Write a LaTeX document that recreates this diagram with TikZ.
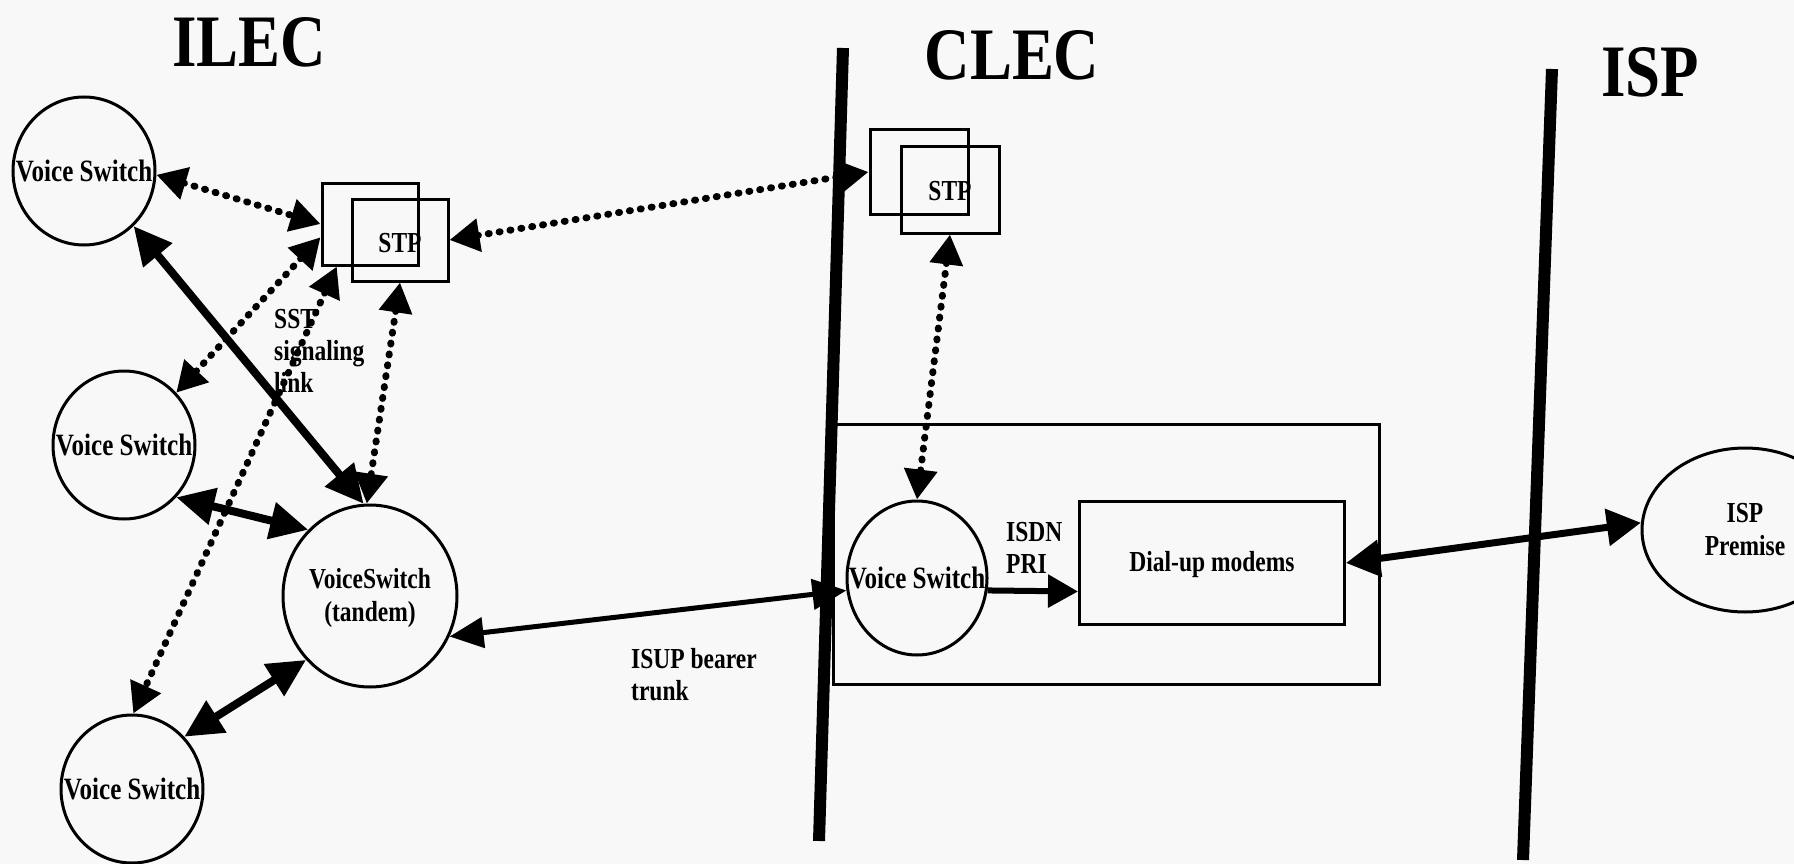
\documentclass[tikz,border=0pt]{standalone}
\usepackage{fontspec}
\setmainfont{Liberation Serif}
\newfontfamily\scanfont[FakeStretch=0.81]{Liberation Serif}
\newfontfamily\headfont[FakeStretch=0.85]{Liberation Serif}
\usetikzlibrary{arrows.meta,shapes.geometric}
\definecolor{paper}{RGB}{248,248,248}
\tikzset{
  sw/.style={ellipse, draw, line width=3pt, inner sep=0pt, minimum width=142pt, minimum height=148pt},
  stpbox/.style={rectangle, draw, line width=3pt, inner sep=0pt, minimum width=96pt, minimum height=82pt},
  plainbox/.style={rectangle, draw, line width=3pt, inner sep=0pt},
  txt/.style={font=\scanfont\bfseries\fontsize{29}{33}\selectfont, inner sep=0pt, align=center},
  vstxt/.style={font=\scanfont\bfseries\fontsize{31}{33}\selectfont, inner sep=0pt, align=center},
  ltxt/.style={font=\scanfont\bfseries\fontsize{29}{32}\selectfont, inner sep=0pt, align=left, anchor=north west},
  titletxt/.style={font=\headfont\bfseries\fontsize{74}{74}\selectfont, inner sep=0pt, anchor=base},
  divider/.style={line width=12pt},
  sig/.style={line width=7pt, dash pattern=on 1pt off 10pt, line cap=round,
    arrows={Triangle[length=30pt,width=32pt]-Triangle[length=30pt,width=32pt]}},
  bear/.style={line width=8pt,
    arrows={Triangle[length=38pt,width=36pt]-Triangle[length=38pt,width=36pt]}},
  trunk/.style={line width=5pt,
    arrows={Triangle[length=34pt,width=30pt]-Triangle[length=34pt,width=30pt]}},
  pri/.style={line width=6pt, arrows={-Triangle[length=30pt,width=32pt]}},
  isplink/.style={line width=7pt,
    arrows={Triangle[length=34pt,width=36pt]-Triangle[length=34pt,width=36pt]}},
}
\begin{document}
\begin{tikzpicture}[x=1pt,y=-1pt]
\fill[paper] (0,0) rectangle (1794,864);
\useasboundingbox (0,0) rectangle (1794,864);
\clip (0,0) rectangle (1794,864);

% titles
\node[titletxt] (tilec) at (249,67) {ILEC};
\node[titletxt] (tclec) at (1012,80) {CLEC};
\node[titletxt] (tisp) at (1650,97) {ISP};

% dividers
\coordinate (cTop) at (843,48);
\coordinate (cBot) at (819,841);
\coordinate (iTop) at (1552,69);
\coordinate (iBot) at (1523,860);
\draw[divider] (cTop) -- (cBot);
\draw[divider] (iTop) -- (iBot);

% CLEC container
\node[plainbox, minimum width=546pt, minimum height=260pt] (clecbox) at (1106,554) {};

% voice switches
\node[sw] (vs1) at (84,171) {};
\node[vstxt] (vs1t) at (vs1) {Voice Switch};
\node[sw] (vs2) at (124,445) {};
\node[vstxt] (vs2t) at (vs2) {Voice Switch};
\node[sw] (vs3) at (132,789) {};
\node[vstxt] (vs3t) at (vs3) {Voice Switch};
\node[sw, minimum width=174pt, minimum height=182pt] (tandem) at (370,596) {};
\node[txt] (tandemt) at (370,598) {VoiceSwitch\\(tandem)};
\node[sw, minimum width=140pt, minimum height=154pt] (vsc) at (917,578) {};
\node[vstxt] (vsct) at (vsc) {Voice Switch};
\node[sw, minimum width=206pt, minimum height=164pt] (isp) at (1745,530) {};
\node[txt] (ispt) at (1745,530) {ISP\\Premise};
\node[plainbox, minimum width=265pt, minimum height=123pt] (dial) at (1212,563) {};
\node[txt] (dialt) at (1212,565) {Dial-up modems};

% STPs
\node[stpbox] (stpAf) at (400,240) {};
\node[txt] (stpAt) at (400,243) {STP};
\node[stpbox] (stpAb) at (370,224) {};
\node[stpbox, minimum width=98pt, minimum height=86pt] (stpBf) at (950,190) {};
\node[txt] (stpBt) at (950,191) {STP};
\node[stpbox, minimum width=98pt, minimum height=85pt] (stpBb) at (919,172) {};

% labels
\node[ltxt] (sst) at (274,309) {SST\\signaling\\link};
\node[ltxt] (isdn) at (1006,522) {ISDN\\PRI};
\node[ltxt] (isup) at (631,648) {ISUP bearer\\trunk};

% signaling links
\draw[sig] (vs1.-3) -- (stpAb.west);
\draw[sig] (stpAb.195) -- (vs2.45);
\draw[sig] (stpAb.232) -- (vs3.89);
\draw[sig] (stpAf.south) -- (tandem.92);
\draw[sig] (stpAf.east) -- (stpBb.west);
\draw[sig] (stpBf.south) -- (vsc.north);

% bearer links
\draw[bear] (vs1.-48) -- (tandem.94);
\draw[bear] (vs2.-45) -- (tandem.133);
\draw[bear] (vs3.45) -- (tandem.225);
\draw[trunk] (tandem.-27) -- (vsc.190);
\draw[pri] (vsc.-10) -- (dial.192);
\draw[isplink] (dial.east) -- (isp.176);
\end{tikzpicture}
\end{document}
